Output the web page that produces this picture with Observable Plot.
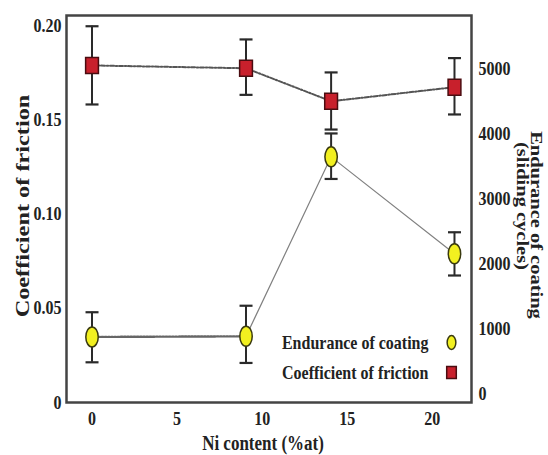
<!DOCTYPE html>
<html><head><meta charset="utf-8">
<script src="https://cdn.jsdelivr.net/npm/d3@7"></script>
<script src="https://cdn.jsdelivr.net/npm/@observablehq/plot@0.6"></script>
<style>
body{margin:0;background:#fff}
#chart svg, #chart svg text{font-family:"Liberation Serif","Times New Roman",serif !important;font-weight:bold}
</style>
</head><body><div id="chart"></div>
<script>
// ---- data ----
const ni = [0, 9.05, 14.05, 21.3];
const friction = [0.1788, 0.1773, 0.1598, 0.1673];
const frictionLow = [0.1581, 0.1632, 0.1448, 0.1528];
const frictionHigh = [0.1996, 0.1926, 0.1751, 0.1827];
const endurance = [870, 880, 3640, 2150];
const enduranceLow = [480, 470, 3300, 1815];
const enduranceHigh = [1250, 1350, 4000, 2480];
const xTicks = [0, 5, 10, 15, 20];
const frictionTicks = [0, 0.05, 0.10, 0.15, 0.20];
const enduranceTicks = [0, 1000, 2000, 3000, 4000, 5000];
const legendLabels = ["Endurance of coating", "Coefficient of friction"];

// map endurance (right axis) onto the friction (left axis) scale
const eOff = 0.00477, eK = 3.449e-5;
const toF = e => eOff + e * eK;

const fric = ni.map((x, i) => ({x, y: friction[i], lo: frictionLow[i], hi: frictionHigh[i]}));
const endu = ni.map((x, i) => ({x, y: toF(endurance[i]), lo: toF(enduranceLow[i]), hi: toF(enduranceHigh[i])}));
const enduDotted = endu.slice(0, 2);
const enduSolid = endu.slice(1);

// custom symbols
const k = 0.5523;
const ellipseSym = {draw(ctx, size) {
  const ry = Math.sqrt(size / Math.PI), rx = ry * 0.62;
  ctx.moveTo(rx, 0);
  ctx.bezierCurveTo(rx, ry * k, rx * k, ry, 0, ry);
  ctx.bezierCurveTo(-rx * k, ry, -rx, ry * k, -rx, 0);
  ctx.bezierCurveTo(-rx, -ry * k, -rx * k, -ry, 0, -ry);
  ctx.bezierCurveTo(rx * k, -ry, rx, -ry * k, rx, 0);
  ctx.closePath();
}};
const rectSym = {draw(ctx, size) {
  const r = Math.sqrt(size / Math.PI);
  ctx.rect(-0.8 * r, -r, 1.6 * r, 2 * r);
}};
const capSym = {draw(ctx, size) {
  const r = Math.sqrt(size / Math.PI);
  ctx.moveTo(-r, 0); ctx.lineTo(r, 0);
}};

const red = "#c8202c", redEdge = "#4a0c10";
const yellow = "#f2f020", yellowEdge = "#3a3a10";
const errColor = "#2a2a2a";

const legendMarks = [];
legendLabels.forEach((lab, i) => {
  const dy = i === 0 ? -60 : -30;
  legendMarks.push(Plot.text([lab], {text: d => d, frameAnchor: "bottom-right", dx: -43, dy, textAnchor: "end", lineAnchor: "middle", fontSize: 16}));
  legendMarks.push(Plot.dot([lab], {frameAnchor: "bottom-right", dx: -20, dy,
    symbol: i === 0 ? ellipseSym : rectSym, r: i === 0 ? 7 : 6,
    fill: i === 0 ? yellow : red, stroke: i === 0 ? yellowEdge : redEdge, strokeWidth: 1.5}));
});

const chart = Plot.plot({
  width: 548, height: 455,
  marginLeft: 66, marginRight: 77, marginTop: 15, marginBottom: 53,
  style: {fontSize: "16px", color: "#222", background: "#fff"},
  x: {domain: [-1.5, 22.3]},
  y: {domain: [0, 0.2053]},
  marks: [
    Plot.axisX(xTicks, {tickSize: 0, tickPadding: 9, label: null, fontSize: 16}),
    Plot.axisY(frictionTicks, {tickSize: 0, tickPadding: 5, label: null, fontSize: 16,
      tickFormat: d => d === 0 ? "0" : d.toFixed(2)}),
    Plot.axisY(enduranceTicks.map(toF), {anchor: "right", tickSize: 0, tickPadding: 7, label: null, fontSize: 16,
      tickFormat: d => String(Math.round((d - eOff) / eK / 100) * 100)}),
    // error bars
    Plot.ruleX(fric, {x: "x", y1: "lo", y2: "hi", stroke: errColor, strokeWidth: 2}),
    Plot.ruleX(endu, {x: "x", y1: "lo", y2: "hi", stroke: errColor, strokeWidth: 2}),
    Plot.dot(fric, {x: "x", y: "lo", symbol: capSym, r: 6.5, stroke: errColor, strokeWidth: 2.2}),
    Plot.dot(fric, {x: "x", y: "hi", symbol: capSym, r: 6.5, stroke: errColor, strokeWidth: 2.2}),
    Plot.dot(endu, {x: "x", y: "lo", symbol: capSym, r: 6.5, stroke: errColor, strokeWidth: 2.2}),
    Plot.dot(endu, {x: "x", y: "hi", symbol: capSym, r: 6.5, stroke: errColor, strokeWidth: 2.2}),
    // lines
    Plot.line(fric, {x: "x", y: "y", stroke: "#555", strokeWidth: 2, strokeDasharray: "4,1.8,1.4,1.8"}),
    Plot.line(enduDotted, {x: "x", y: "y", stroke: "#666", strokeWidth: 2.4, strokeDasharray: "1.6,1.6"}),
    Plot.line(enduSolid, {x: "x", y: "y", stroke: "#808080", strokeWidth: 1.2}),
    // markers
    Plot.dot(fric, {x: "x", y: "y", symbol: rectSym, r: 8, fill: red, stroke: redEdge, strokeWidth: 1.5}),
    Plot.dot(endu, {x: "x", y: "y", symbol: ellipseSym, r: 10, fill: yellow, stroke: yellowEdge, strokeWidth: 1.5}),
    Plot.frame({stroke: "#444", strokeWidth: 2.5}),
    // legend
    ...legendMarks,
    // axis titles
    Plot.text(["Coefficient of friction"], {text: d => d, frameAnchor: "left", dx: -44, dy: -3, rotate: -90, textAnchor: "middle", lineAnchor: "middle", fontSize: 19}),
    Plot.text(["Endurance of coating"], {text: d => d, frameAnchor: "right", dx: 65, dy: 16, rotate: 90, textAnchor: "middle", lineAnchor: "middle", fontSize: 16}),
    Plot.text(["(sliding cycles)"], {text: d => d, frameAnchor: "right", dx: 51, dy: -3, rotate: 90, textAnchor: "middle", lineAnchor: "middle", fontSize: 16}),
    Plot.text(["Ni content (%at)"], {text: d => d, frameAnchor: "bottom", dx: -6, dy: 41, textAnchor: "middle", lineAnchor: "middle", fontSize: 17})
  ]
});
document.getElementById("chart").appendChild(chart);

// the reference's lettering is stretched vertically (scanned figure): stretch glyphs the same way
chart.querySelectorAll("text").forEach(t => {
  const tr = t.getAttribute("transform") || "";
  const rotated = /rotate\(/.test(tr);
  t.setAttribute("transform", tr + (rotated ? " scale(1.28,1)" : " scale(1,1.2)"));
});
</script>
</body></html>
